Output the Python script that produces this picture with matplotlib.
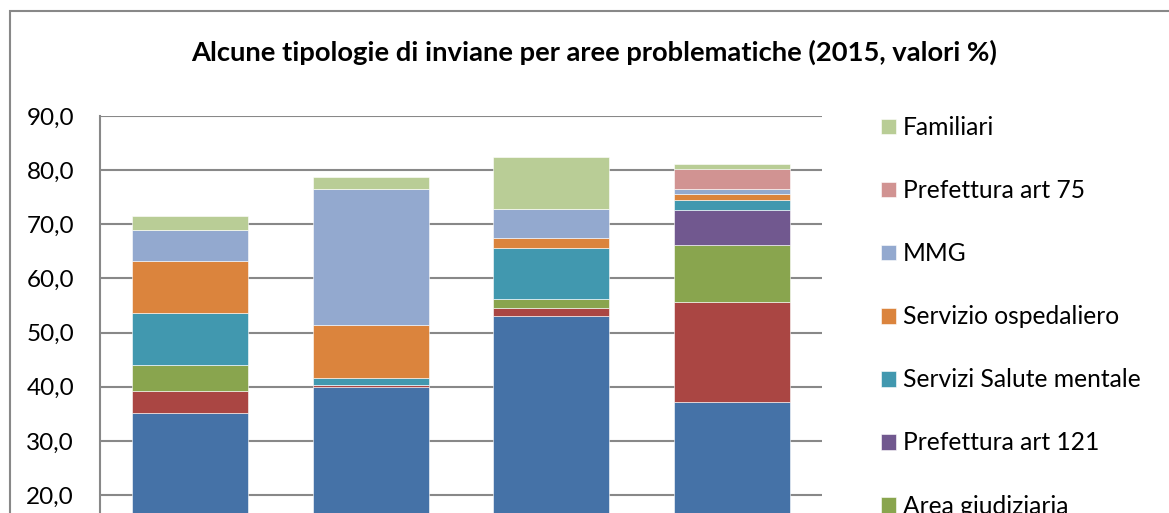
import numpy as np
import matplotlib
matplotlib.use("Agg")
import matplotlib.pyplot as plt
from matplotlib.patches import Rectangle

plt.rcParams['font.family'] = ['Lato', 'DejaVu Sans']

categories = ["A", "B", "C", "D"]

# series from bottom to top
series = [
    "Accesso volontario",
    "Altri servizi",
    "Area giudiziaria",
    "Prefettura art 121",
    "Servizi Salute mentale",
    "Servizio ospedaliero",
    "MMG",
    "Prefettura art 75",
    "Familiari",
]
colors = ["#4572A7", "#AA4643", "#89A54E", "#71588F", "#4198AF",
          "#DB843D", "#93A9CF", "#D19392", "#B9CD96"]

accesso = [35.2, 39.9, 53.1, 37.1]
altri = [4.0, 0.4, 1.5, 18.6]
giudiziaria = [4.8, 0.0, 1.6, 10.4]
pref121 = [0.0, 0.0, 0.0, 6.6]
salute_mentale = [9.7, 1.4, 9.4, 1.7]
ospedaliero = [9.5, 9.7, 1.9, 1.2]
mmg = [5.8, 25.1, 5.3, 0.9]
pref75 = [0.0, 0.0, 0.0, 3.7]
familiari = [2.5, 2.2, 9.6, 0.9]

values = [accesso, altri, giudiziaria, pref121, salute_mentale,
          ospedaliero, mmg, pref75, familiari]

W, H = 1169, 513
fig = plt.figure(figsize=(W / 100, H / 100), dpi=100)

# outer chart frame (right and bottom fall outside the picture)
fig.patches.append(Rectangle((10 / W, -0.5), 2, 1.5 - 11 / H, transform=fig.transFigure,
                             fill=False, edgecolor="#888888", linewidth=1.5, zorder=0))

# axes: y=90 at 116px, y=0 at 603px
ax_left, ax_right = 100 / W, 822 / W
ax_top = 1 - 116 / H
ax_bot = 1 - 603.4 / H
ax = fig.add_axes([ax_left, ax_bot, ax_right - ax_left, ax_top - ax_bot])

x = np.arange(len(categories))
bottom = np.zeros(len(categories))
handles = []
for name, vals, c in zip(series, values, colors):
    b = ax.bar(x, vals, 0.643, bottom=bottom, color=c, label=name,
               edgecolor="white", linewidth=0.4, zorder=3)
    handles.append(b)
    bottom += np.array(vals)

ax.set_xlim(-0.5, 3.5)
ax.set_ylim(0, 90)
ax.set_yticks(np.arange(0, 91, 10))
ax.set_yticklabels([f"{v:.1f}".replace(".", ",") for v in np.arange(0, 91, 10)], fontsize=17.5)
ax.set_xticks([])
ax.yaxis.grid(True, color="#888888", linewidth=1.5, zorder=0)
ax.tick_params(axis="y", length=0, pad=18.7)
for s in ["top", "right", "bottom"]:
    ax.spines[s].set_visible(False)
ax.spines["left"].set_color("#888888")
ax.spines["left"].set_linewidth(1.5)

fig.text(594 / W, 1 - 52 / H,
         "Alcune tipologie di inviane per aree problematiche (2015, valori %)",
         ha="center", va="center", fontsize=19.7, fontweight="bold")

leg = fig.legend(handles[::-1], series[::-1], loc="upper left",
                 bbox_to_anchor=(859 / W, 1 - 94 / H), frameon=False,
                 fontsize=17.7, handlelength=0.61, handleheight=0.61,
                 handletextpad=0.27, labelspacing=1.63)

fig.savefig("out.png", dpi=100)
